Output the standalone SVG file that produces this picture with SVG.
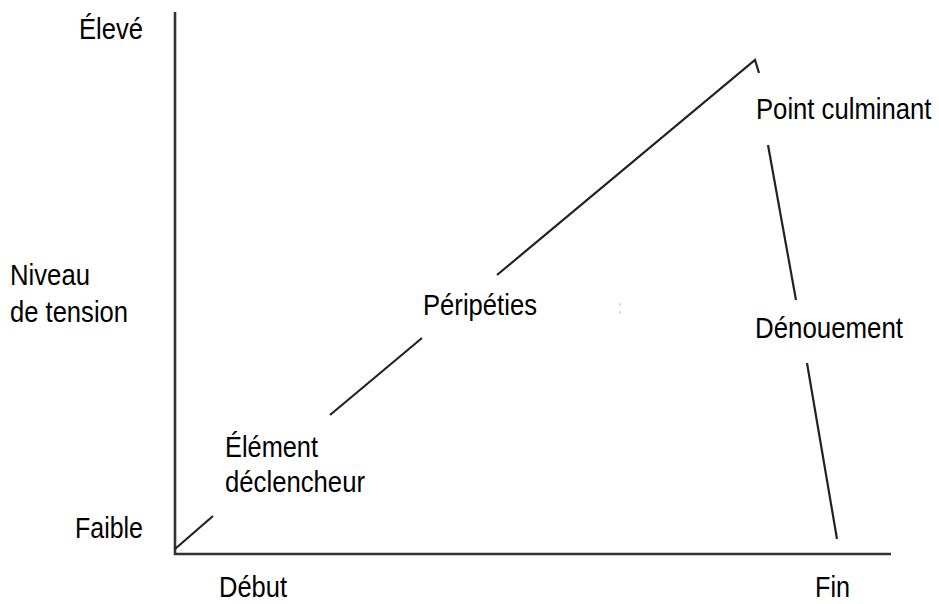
<svg xmlns="http://www.w3.org/2000/svg" width="939" height="604" viewBox="0 0 939 604">
<style>
.t{font-family:"Liberation Sans",Arial,sans-serif;font-size:29px;fill:#000}
.ax{stroke:#333;stroke-width:2.6;fill:none}
.ln{stroke:#222;stroke-width:2.2;fill:none;stroke-linecap:butt}
</style>
<rect width="939" height="604" fill="#fff"/>
<g id="axes">
<line class="ax" x1="175" y1="12" x2="175" y2="555"/>
<line class="ax" x1="174" y1="554" x2="891" y2="554"/>
</g>
<g id="connectors">
<line class="ln" x1="175" y1="549" x2="213" y2="516"/>
<line class="ln" x1="330" y1="415" x2="422" y2="338"/>
<polyline class="ln" points="497,275 755,60 759,73"/>
<line class="ln" x1="768" y1="145" x2="796" y2="300"/>
<line class="ln" x1="807" y1="363" x2="837" y2="539"/>
<line x1="620" y1="303" x2="620" y2="317" stroke="#bbb" stroke-width="1" stroke-dasharray="3,5"/>
</g>
<g id="eleve"><text class="t" x="79" y="39" textLength="64" lengthAdjust="spacingAndGlyphs">Élevé</text></g>
<g id="niveau"><text class="t" x="10" y="285" textLength="80" lengthAdjust="spacingAndGlyphs">Niveau</text>
<text class="t" x="10" y="322" textLength="118" lengthAdjust="spacingAndGlyphs">de tension</text></g>
<g id="faible"><text class="t" x="75" y="538" textLength="68" lengthAdjust="spacingAndGlyphs">Faible</text></g>
<g id="debut"><text class="t" x="219" y="597" textLength="68" lengthAdjust="spacingAndGlyphs">Début</text></g>
<g id="fin"><text class="t" x="815" y="597" textLength="35" lengthAdjust="spacingAndGlyphs">Fin</text></g>
<g id="element"><text class="t" x="225" y="457" textLength="93" lengthAdjust="spacingAndGlyphs">Élément</text>
<text class="t" x="225" y="492" textLength="140" lengthAdjust="spacingAndGlyphs">déclencheur</text></g>
<g id="peripeties"><text class="t" x="423" y="315" textLength="114" lengthAdjust="spacingAndGlyphs">Péripéties</text></g>
<g id="point" transform="translate(756,119) scale(0.885,1)"><text class="t" x="0" y="0">Point culminant</text></g>
<g id="denouement"><text class="t" x="755" y="338" textLength="148" lengthAdjust="spacingAndGlyphs">Dénouement</text></g>
</svg>
